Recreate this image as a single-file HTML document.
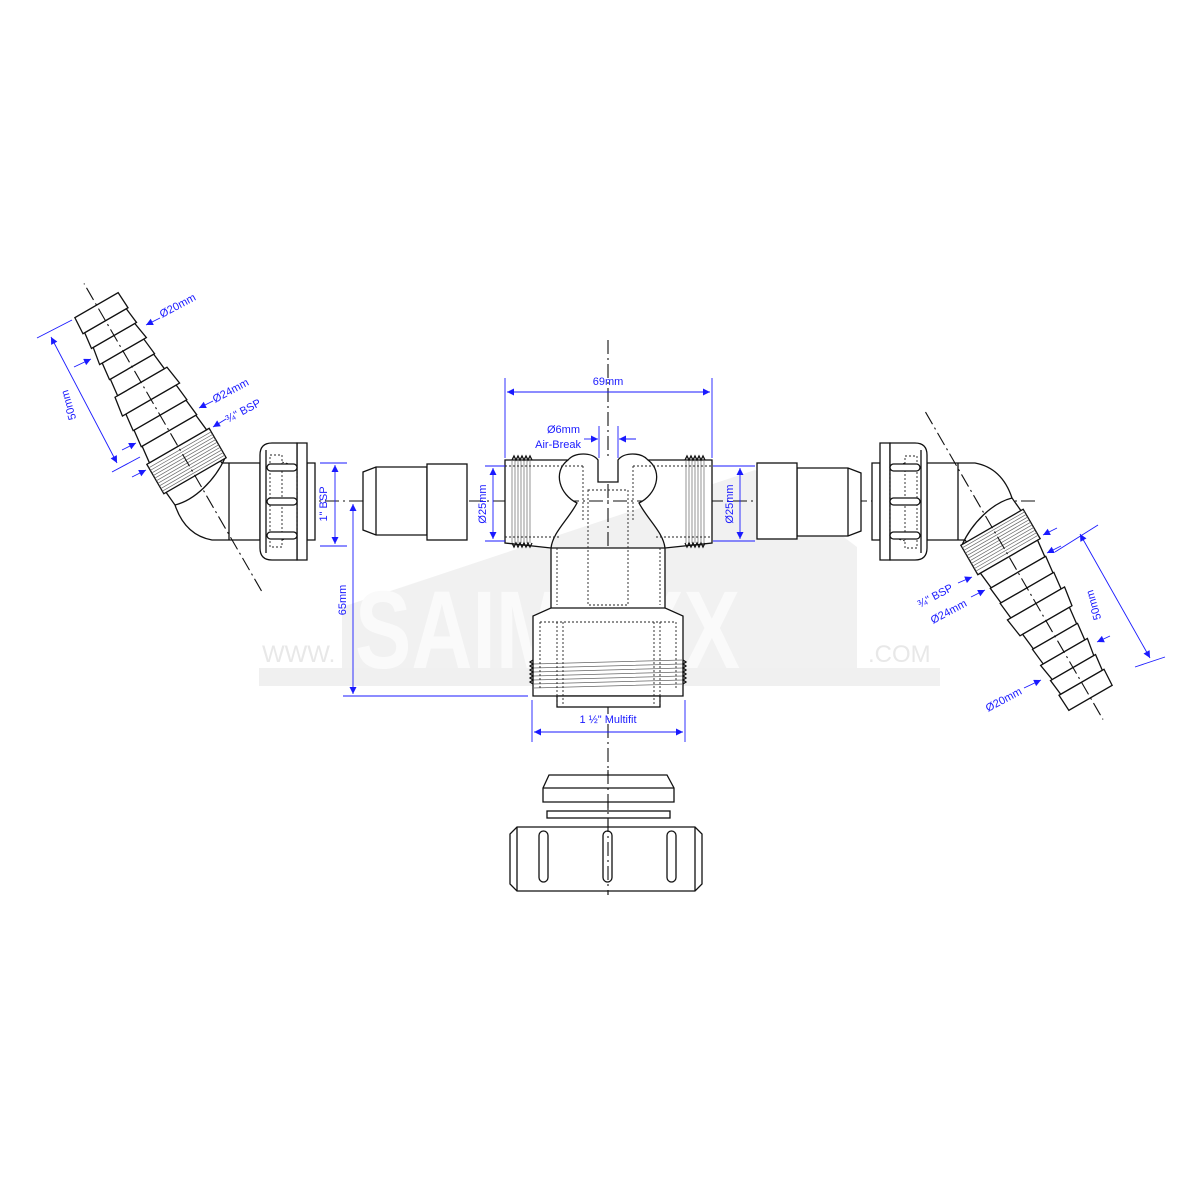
<!DOCTYPE html>
<html><head><meta charset="utf-8"><style>
html,body{margin:0;padding:0;background:#fff}
svg{display:block}
.k{fill:#fff;stroke:#111;stroke-width:1.3}
.kn{fill:none;stroke:#111;stroke-width:1.3}
.d{fill:none;stroke:#222;stroke-width:0.9;stroke-dasharray:2 2}
.c{fill:none;stroke:#111;stroke-width:1.1;stroke-dasharray:14 4 2 4}
.b{fill:none;stroke:#1a1aff;stroke-width:0.9}
.t{fill:#1a1aff;font-family:"Liberation Sans",sans-serif;font-size:11px}
.th{fill:none;stroke:#666;stroke-width:0.7}
</style></head><body>
<svg width="1200" height="1200" viewBox="0 0 1200 1200" xmlns="http://www.w3.org/2000/svg">
<defs>
<marker id="a" viewBox="0 0 10 10" refX="10" refY="5" markerWidth="9" markerHeight="7" orient="auto-start-reverse" markerUnits="userSpaceOnUse"><path d="M0,0 L10,5 L0,10 z" fill="#1a1aff"/></marker>
<g id="side">
  <path class="k" d="M260,463 L222,463 C205,440 190,470 163,488 L175,505 C180,520 190,536 212,540 L260,540 Z"/>
  <path class="kn" d="M175,505 C195,500 215,480 225,458"/>
  <line class="kn" x1="229" y1="463" x2="229" y2="540"/>
  <path class="k" d="M307,463 L315,463 L315,540 L307,540 Z"/>
  <path class="k" d="M297,443 L307,443 L307,560 L297,560 Z"/>
  <path class="k" d="M297,443 L272,443 Q260,443 260,455 L260,548 Q260,560 272,560 L297,560 Z"/>
  <line class="kn" x1="266" y1="450" x2="266" y2="553"/>
  <rect class="d" x="270" y="455" width="12" height="92"/>
  <path class="d" d="M282,462 L297,466 M282,540 L297,536 M297,466 L297,536"/>
  <rect class="k" x="267" y="464" width="30" height="7" rx="3.5"/>
  <rect class="k" x="267" y="498" width="30" height="7" rx="3.5"/>
  <rect class="k" x="267" y="532" width="30" height="7" rx="3.5"/>
  <g transform="translate(209,500) rotate(-120)">
    <rect class="k" x="28" y="-36" width="34" height="72"/>
    <g class="th">
      <line x1="31" y1="-36" x2="31" y2="36"/><line x1="34" y1="-36" x2="34" y2="36"/><line x1="37" y1="-36" x2="37" y2="36"/><line x1="40" y1="-36" x2="40" y2="36"/><line x1="43" y1="-36" x2="43" y2="36"/><line x1="46" y1="-36" x2="46" y2="36"/><line x1="49" y1="-36" x2="49" y2="36"/><line x1="52" y1="-36" x2="52" y2="36"/><line x1="55" y1="-36" x2="55" y2="36"/><line x1="58" y1="-36" x2="58" y2="36"/>
    </g>
    <path class="k" d="M62,-33 L80,-31 L80,31 L62,33 Z"/>
    <path class="k" d="M80,-32 L98,-30 L98,30 L80,32 Z"/>
    <path class="k" d="M98,-31 L116,-29 L116,29 L98,31 Z"/>
    <path class="k" d="M116,-33 L136,-30 L136,30 L116,33 Z"/>
    <path class="k" d="M136,-27 L154,-25 L154,25 L136,27 Z"/>
    <path class="k" d="M154,-26 L172,-24 L172,24 L154,26 Z"/>
    <path class="k" d="M172,-27 L190,-24 L190,24 L172,27 Z"/>
    <path class="k" d="M190,-26 L207,-24 L207,24 L190,26 Z"/>
    <path class="k" d="M207,-26 L225,-25 L225,25 L207,26 Z"/>
    <line class="c" x1="-105" y1="0" x2="250" y2="0"/>
  </g>
</g>
<g id="comp">
  <path class="k" d="M376,467 L427,467 L427,535 L376,535 L363,530 L363,472 Z"/>
  <line class="kn" x1="376" y1="467" x2="376" y2="535"/>
  <rect class="k" x="427" y="464" width="40" height="76"/>
</g>
</defs>

<g>
  <path d="M342,607 L755,470 L857,547 L857,668 L342,668 Z" fill="#f1f1f1"/>
  <rect x="259" y="668" width="681" height="18" fill="#f0f0f0"/>
  <text x="262" y="662" font-family="Liberation Sans,sans-serif" font-size="24" fill="#e8e8e8">WWW.</text>
  <text x="868" y="662" font-family="Liberation Sans,sans-serif" font-size="24" fill="#e8e8e8">.COM</text>
  <text x="355" y="668" font-family="Liberation Sans,sans-serif" font-weight="bold" font-size="110" fill="#fafafa" textLength="385" lengthAdjust="spacingAndGlyphs">SAIMAXX</text>
</g>

<line class="c" x1="205" y1="501" x2="1035" y2="501"/>
<line class="c" x1="608" y1="340" x2="608" y2="895"/>

<use href="#side"/>
<use href="#side" transform="rotate(180,593.5,501.5)"/>
<use href="#comp"/>
<use href="#comp" transform="rotate(180,612,501.5)"/>

<g>
  <path class="k" d="M505,460 L568,460 C552,472 560,495 577,503 C568,520 553,532 551,548 L551,608 L533,616 L533,696 L683,696 L683,616 L665,608 L665,548 C663,532 648,520 639,503 C656,495 664,472 648,460 L712,460 L712,543 L665,548 L551,548 L505,543 Z"/>
  <path class="k" d="M568,460 C575,452 592,452 598,460 L598,482 L618,482 L618,460 C624,452 641,452 648,460"/>
  <line class="kn" x1="551" y1="608" x2="665" y2="608"/>
  <rect class="k" x="557" y="696" width="103" height="11"/>
  <g class="th">
    <line x1="512" y1="460" x2="512" y2="543"/><line x1="515" y1="460" x2="515" y2="543"/><line x1="518" y1="460" x2="518" y2="543"/><line x1="521" y1="460" x2="521" y2="543"/><line x1="524" y1="460" x2="524" y2="543"/><line x1="527" y1="460" x2="527" y2="543"/><line x1="530" y1="460" x2="530" y2="543"/>
    <line x1="686" y1="460" x2="686" y2="543"/><line x1="689" y1="460" x2="689" y2="543"/><line x1="692" y1="460" x2="692" y2="543"/><line x1="695" y1="460" x2="695" y2="543"/><line x1="698" y1="460" x2="698" y2="543"/><line x1="701" y1="460" x2="701" y2="543"/><line x1="704" y1="460" x2="704" y2="543"/>
    <path d="M533,668 L683,664 M533,672 L683,668 M533,676 L683,672 M533,680 L683,676 M533,684 L683,680 M533,688 L683,684 M533,664 L683,660"/>
  </g>
  <path class="kn" d="M512,460 l2,-4 l2,4 l2,-4 l2,4 l2,-4 l2,4 l2,-4 l2,4 l2,-4 l2,4 M512,543 l2,4 l2,-4 l2,4 l2,-4 l2,4 l2,-4 l2,4 l2,-4 l2,4 l2,-4 M685,460 l2,-4 l2,4 l2,-4 l2,4 l2,-4 l2,4 l2,-4 l2,4 l2,-4 l2,4 M685,543 l2,4 l2,-4 l2,4 l2,-4 l2,4 l2,-4 l2,4 l2,-4 l2,4 l2,-4"/>
  <path class="kn" d="M533,660 l-3,2 l3,2 l-3,2 l3,2 l-3,2 l3,2 l-3,2 l3,2 l-3,2 l3,2 l-3,2 l3,2 M683,660 l3,2 l-3,2 l3,2 l-3,2 l3,2 l-3,2 l3,2 l-3,2 l3,2 l-3,2 l3,2 l-3,2"/>
  <path class="d" d="M505,466 L583,466 M633,466 L712,466 M505,537 L560,537 M656,537 L712,537 M583,466 L583,520 M633,466 L633,520"/>
  <path class="d" d="M588,490 L628,490 L628,605 L588,605 Z"/>
  <path class="d" d="M557,548 L557,605 M660,548 L660,605 M540,622 L676,622 M540,622 L540,690 M676,622 L676,690 M557,622 L557,706 M660,622 L660,706 M563,622 L563,706 M654,622 L654,706"/>
</g>

<path class="k" d="M549,775 L667,775 L674,788 L674,802 L543,802 L543,788 Z"/>
<line class="kn" x1="543" y1="788" x2="674" y2="788"/>
<rect class="k" x="547" y="811" width="123" height="7"/>
<path class="k" d="M517,827 L695,827 L702,834 L702,884 L695,891 L517,891 L510,884 L510,834 Z"/>
<line class="kn" x1="517" y1="827" x2="517" y2="891"/><line class="kn" x1="695" y1="827" x2="695" y2="891"/>
<rect class="k" x="539" y="831" width="9" height="51" rx="4.5"/>
<rect class="k" x="603" y="831" width="9" height="51" rx="4.5"/>
<rect class="k" x="667" y="831" width="9" height="51" rx="4.5"/>
<line class="c" x1="608" y1="770" x2="608" y2="895"/>

<g class="b">
  <line x1="505" y1="378" x2="505" y2="458"/><line x1="712" y1="378" x2="712" y2="458"/>
  <line x1="507" y1="392" x2="710" y2="392" marker-start="url(#a)" marker-end="url(#a)"/>
  <line x1="599" y1="426" x2="599" y2="458"/><line x1="618" y1="426" x2="618" y2="458"/>
  <line x1="584" y1="439" x2="598" y2="439" marker-end="url(#a)"/>
  <line x1="636" y1="439" x2="619" y2="439" marker-end="url(#a)"/>
  <line x1="485" y1="466" x2="505" y2="466"/><line x1="485" y1="541" x2="505" y2="541"/>
  <line x1="493" y1="468" x2="493" y2="539" marker-start="url(#a)" marker-end="url(#a)"/>
  <line x1="713" y1="466" x2="755" y2="466"/><line x1="713" y1="541" x2="755" y2="541"/>
  <line x1="740" y1="468" x2="740" y2="539" marker-start="url(#a)" marker-end="url(#a)"/>
  <line x1="532" y1="700" x2="532" y2="742"/><line x1="685" y1="700" x2="685" y2="742"/>
  <line x1="534" y1="732" x2="683" y2="732" marker-start="url(#a)" marker-end="url(#a)"/>
  <line x1="320" y1="463" x2="347" y2="463"/><line x1="320" y1="546" x2="347" y2="546"/>
  <line x1="335" y1="465" x2="335" y2="544" marker-start="url(#a)" marker-end="url(#a)"/>
  <line x1="343" y1="696" x2="528" y2="696"/>
  <line x1="353" y1="504" x2="353" y2="694" marker-start="url(#a)" marker-end="url(#a)"/>
  <line x1="37" y1="338" x2="72" y2="320"/><line x1="112" y1="472" x2="140" y2="457"/>
  <line x1="51" y1="337" x2="117" y2="463" marker-start="url(#a)" marker-end="url(#a)"/>
  <line x1="160" y1="318" x2="146" y2="325" marker-end="url(#a)"/>
  <line x1="74" y1="367" x2="91" y2="359" marker-end="url(#a)"/>
  <line x1="213" y1="401" x2="199" y2="408" marker-end="url(#a)"/>
  <line x1="122" y1="450" x2="136" y2="443" marker-end="url(#a)"/>
  <line x1="226" y1="419" x2="213" y2="427" marker-end="url(#a)"/>
  <line x1="132" y1="477" x2="146" y2="470" marker-end="url(#a)"/>
  <line x1="1055" y1="552" x2="1098" y2="525"/><line x1="1135" y1="667" x2="1165" y2="657"/>
  <line x1="1080" y1="534" x2="1150" y2="658" marker-start="url(#a)" marker-end="url(#a)"/>
  <line x1="958" y1="583" x2="972" y2="577" marker-end="url(#a)"/>
  <line x1="971" y1="597" x2="985" y2="590" marker-end="url(#a)"/>
  <line x1="1024" y1="688" x2="1041" y2="680" marker-end="url(#a)"/>
  <line x1="1057" y1="528" x2="1043" y2="535" marker-end="url(#a)"/>
  <line x1="1061" y1="546" x2="1047" y2="553" marker-end="url(#a)"/>
  <line x1="1110" y1="636" x2="1097" y2="642" marker-end="url(#a)"/>
</g>

<text class="t" x="608" y="385" text-anchor="middle">69mm</text>
<text class="t" x="580" y="433" text-anchor="end">Ø6mm</text>
<text class="t" x="581" y="448" text-anchor="end">Air-Break</text>
<text class="t" transform="translate(486,504) rotate(-90)" text-anchor="middle">Ø25mm</text>
<text class="t" transform="translate(733,504) rotate(-90)" text-anchor="middle">Ø25mm</text>
<text class="t" x="608" y="723" text-anchor="middle">1 ½" Multifit</text>
<text class="t" transform="translate(327,504) rotate(-90)" text-anchor="middle">1" BSP</text>
<text class="t" transform="translate(346,600) rotate(-90)" text-anchor="middle">65mm</text>
<text class="t" transform="translate(162,318) rotate(-28)">Ø20mm</text>
<text class="t" transform="translate(215,403) rotate(-28)">Ø24mm</text>
<text class="t" transform="translate(228,423) rotate(-28)">¾" BSP</text>
<text class="t" transform="translate(72,404) rotate(-106)" text-anchor="middle">50mm</text>
<text class="t" transform="translate(920,608) rotate(-28)">¾" BSP</text>
<text class="t" transform="translate(933,624) rotate(-28)">Ø24mm</text>
<text class="t" transform="translate(988,712) rotate(-28)">Ø20mm</text>
<text class="t" transform="translate(1097,604) rotate(-106)" text-anchor="middle">50mm</text>
</svg>
</body></html>
